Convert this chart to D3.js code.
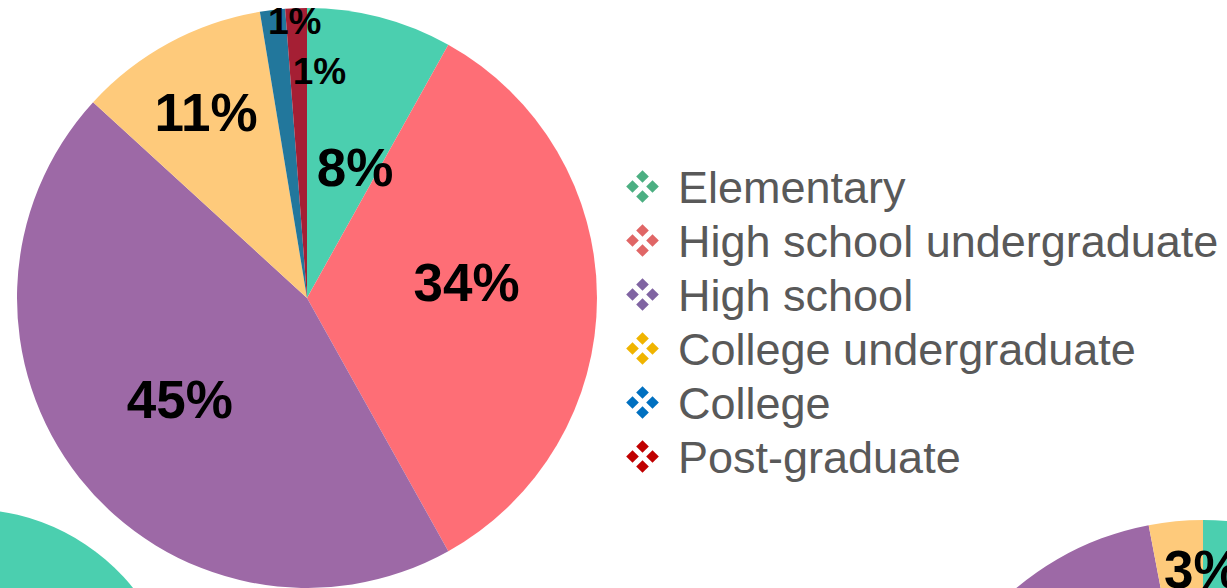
<!DOCTYPE html>
<html lang="en">
<head>
    <meta charset="UTF-8">
    <title>Education level pies</title>
    <style>
        body { margin: 0; overflow: hidden; background: #fff; }
        #chart { width: 1227px; height: 588px; display: block; }
        .pct { font-family: "Liberation Sans", Arial, sans-serif; font-weight: bold; fill: #000; text-anchor: middle; }
        .legend-text { font-family: "Liberation Sans", Arial, sans-serif; font-size: 45px; fill: #595959; }
    </style>
</head>
<body>
    <svg id="chart" width="1227" height="588"></svg>
    <script src="https://d3js.org/d3.v7.min.js"></script>
    <script>
        // categories and values (percent)
        const categories = ["Elementary", "High school undergraduate", "High school", "College undergraduate", "College", "Post-graduate"];
        const mainValues = [8.1, 33.8, 44.9, 10.6, 1.4, 1.2];
        // neighbouring pies, only partly visible
        const lowerLeftValues = [30, 30, 30, 7, 2, 1];
        const lowerRightValues = [24, 30, 43, 3, 0, 0];

        const sliceColors = ["#4bcfaf", "#fe6e76", "#9d69a6", "#feca7b", "#22779c", "#a51f34"];
        const markerColors = ["#4caf82", "#e06666", "#8064a2", "#f0b400", "#0070c0", "#c00000"];

        const svg = d3.select("#chart");
        const color = d3.scaleOrdinal().domain(categories).range(sliceColors);
        const markerColor = d3.scaleOrdinal().domain(categories).range(markerColors);

        const pie = d3.pie().sort(null).value(d => d.value);

        // label placement tweaks (fraction of radius, pixel nudge), like the original layout
        const mainPlace = {
            "Elementary": { k: 0.467, dx: 14, dy: 0, size: 53 },
            "High school undergraduate": { k: 0.55, dx: 0, dy: -16, size: 53 },
            "High school": { k: 0.559, dx: 0, dy: 0, size: 53 },
            "College undergraduate": { k: 0.731, dx: 0, dy: 0, size: 53 },
            "College": { k: 0.962, dx: 21, dy: 0, size: 37 },
            "Post-graduate": { k: 0.786, dx: 21, dy: 0, size: 37 }
        };
        // only the label that shows inside the frame
        const lowerRightPlace = {
            "College undergraduate": { k: 0.835, dx: 22, dy: 0, size: 53 }
        };

        function drawPie(values, cx, cy, r, place) {
            const data = categories.map((c, i) => ({ cat: c, value: values[i] }));
            const arcs = pie(data).filter(d => d.data.value > 0);
            const arc = d3.arc().innerRadius(0).outerRadius(r);
            const g = svg.append("g").attr("transform", `translate(${cx},${cy})`);

            g.selectAll("path")
                .data(arcs)
                .enter().append("path")
                .attr("d", arc)
                .attr("fill", d => color(d.data.cat));

            if (!place) return;
            g.selectAll("text")
                .data(arcs.filter(d => place[d.data.cat]))
                .enter().append("text")
                .attr("class", "pct")
                .attr("font-size", d => place[d.data.cat].size)
                .attr("transform", d => {
                    const p = place[d.data.cat];
                    const a = (d.startAngle + d.endAngle) / 2;
                    const x = Math.sin(a) * r * p.k + p.dx;
                    const y = -Math.cos(a) * r * p.k + p.dy;
                    return `translate(${x},${y})`;
                })
                .attr("dy", "0.36em")
                .text(d => Math.round(d.data.value) + "%");
        }

        drawPie(lowerLeftValues, -32, 721, 212, null);
        drawPie(mainValues, 307, 298, 290, mainPlace);
        drawPie(lowerRightValues, 1203, 810, 290, lowerRightPlace);

        // legend
        const rowY = d3.scalePoint().domain(categories).range([186.5, 456.5]);
        const diamond = d3.symbol().type(d3.symbolSquare).size(80)();
        const legend = svg.append("g");
        const row = legend.selectAll("g")
            .data(categories)
            .enter().append("g")
            .attr("transform", d => `translate(642.5,${rowY(d)})`);

        [[0, -10], [-10, 0], [10, 0], [0, 10]].forEach(([ox, oy]) => {
            row.append("path")
                .attr("d", diamond)
                .attr("transform", `translate(${ox},${oy}) rotate(45)`)
                .attr("fill", d => markerColor(d));
        });

        row.append("text")
            .attr("class", "legend-text")
            .attr("x", 35.5)
            .attr("dy", "0.36em")
            .text(d => d);
    </script>
</body>
</html>
